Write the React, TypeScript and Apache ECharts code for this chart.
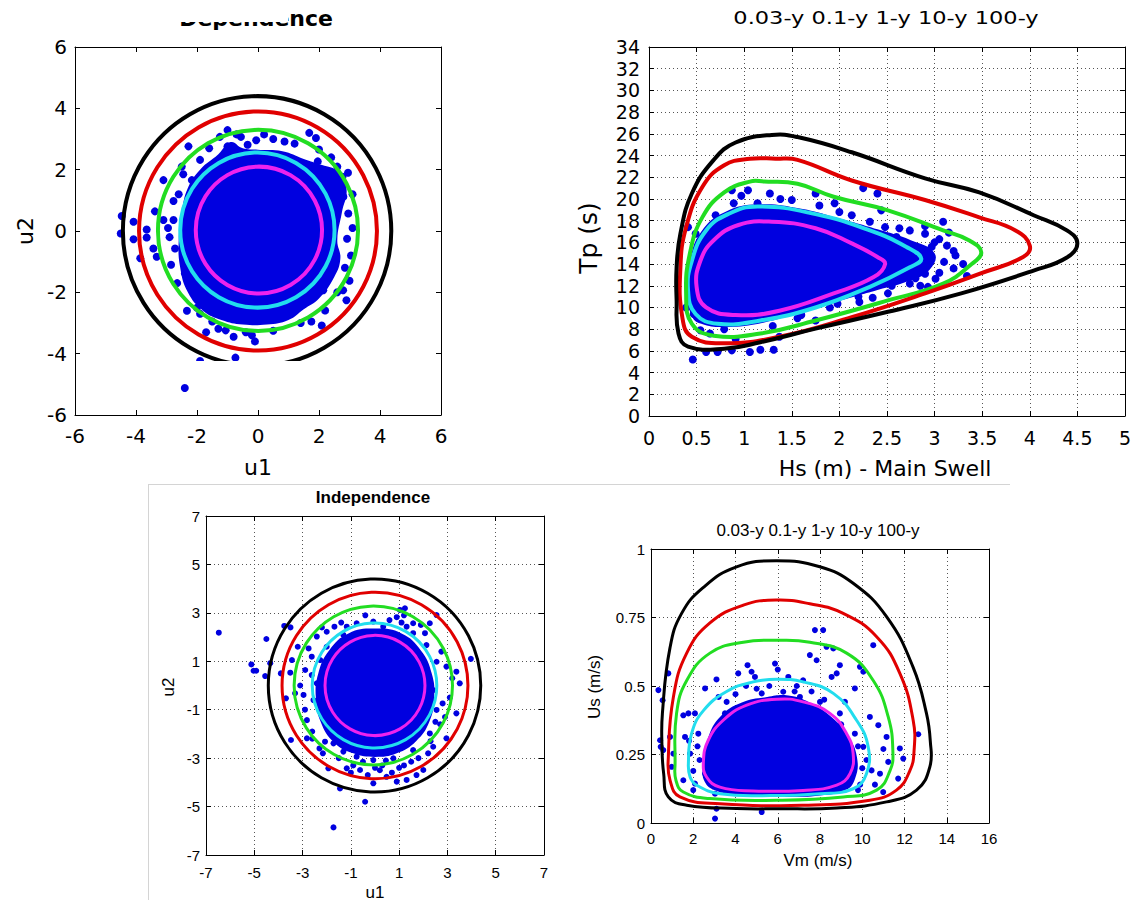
import React, { useEffect, useRef } from 'react';
import * as echarts from 'echarts';

// ---------- styling constants ----------
const WIDE = '"DejaVu Sans", sans-serif';
const SANS = '"Liberation Sans", Arial, sans-serif';
const BLUE = '#0000e0';
const CONTOUR_COLORS = ['#ee22ee', '#22ddee', '#22dd22', '#e00000', '#000000']; // 0.03y,0.1y,1y,10y,100y

// ---------- titles / axis names ----------
const TITLE_DEP = 'Dependence';
const TITLE_IND = 'Independence';
const TITLE_RP = '0.03-y 0.1-y 1-y 10-y 100-y';
const NAME_U1 = 'u1';
const NAME_U2 = 'u2';
const NAME_HS = 'Hs (m) - Main Swell';
const NAME_TP = 'Tp (s)';
const NAME_VM = 'Vm (m/s)';
const NAME_US = 'Us (m/s)';

// ---------- axis ranges [min, max, interval] ----------
const A_X = [-6, 6, 2];
const A_Y = [-6, 6, 2];
const B_X = [0, 5, 0.5];
const B_Y = [0, 34, 2];
const C_X = [-7, 7, 2];
const C_Y = [-7, 7, 2];
const D_X = [0, 16, 2];
const D_Y = [0, 1, 0.25];

// ---------- Panel A (top-left, dependence, u-space) ----------
const A_CX = [0.03, -0.02, 0.0, 0.0, -0.03];
const A_CY = [0.03, 0.03, 0.02, 0.0, 0.0];
const A_R = [2.07, 2.53, 3.28, 3.9, 4.4];
const A_BLOB = [
  [0, 2.65], [0.8, 2.6], [1.5, 2.35], [2.1, 2.15], [2.6, 1.95], [2.9, 1.4], [2.75, 0.6], [2.6, -0.3],
  [2.7, -0.9], [2.5, -1.5], [2.0, -2.2], [1.5, -2.55], [1.0, -2.9], [0.3, -3.05], [-0.5, -3.05],
  [-1.2, -2.9], [-1.8, -2.6], [-2.3, -2.0], [-2.55, -1.2], [-2.6, -0.3], [-2.5, 0.6], [-2.3, 1.4],
  [-1.9, 2.0], [-1.3, 2.5], [-0.9, 2.9], [-0.5, 2.7],
];
const A_POINTS = [
  [-4.47, 0.49], [-4.5, -0.08], [-4.08, 0.3], [-4.08, -0.27], [-3.86, -0.89], [-3.65, 0.05],
  [-3.65, -0.21], [-3.38, 0.64], [-3.43, -0.57], [-3.32, -0.84], [-3.1, 1.66], [-3.1, 0.36],
  [-2.77, 0.98], [-2.77, 0.36], [-2.72, -0.57], [-2.28, 2.76], [-1.9, 2.32], [-2.17, 1.66],
  [-2.4, -1.38], [-2.33, -2.6], [-1.9, -2.7], [-1.7, -3.3], [-1.3, -3.19], [-1.06, -3.24],
  [-0.8, -3.45], [-0.2, -3.4], [-0.74, -4.13], [-1.9, -4.24], [-2.4, -5.12], [-1.25, 3.07],
  [-1.0, 3.29], [-1.0, 2.76], [-0.56, 3.07], [-0.34, 2.81], [-0.06, 2.96], [0.87, 2.92],
  [1.68, 3.2], [1.9, 3.03], [2.0, 2.66], [1.96, 2.27], [2.77, 1.77], [2.8, 1.12], [2.96, 0.57],
  [2.92, -0.25], [2.4, -0.89], [3.0, -1.62], [2.79, -1.93], [2.9, -2.26], [2.14, -1.93],
  [2.2, -2.59], [2.09, -3.08], [0.9, -2.66], [-1.3, -2.66], [-2.6, 1.2], [-2.9, -0.2],
  [-2.95, 0.1], [-2.5, 2.1], [-1.6, 2.7], [0.5, 3.0], [2.4, 2.4], [2.6, 2.1], [3.05, -0.8],
  [2.6, -2.0], [1.4, -3.0], [0.5, -3.25], [-0.4, -3.3], [-1.5, -2.95], [-2.0, -2.5],
  [-2.65, -1.7], [-2.85, -1.1], [-2.45, 1.85], [-0.7, 3.15], [0.2, 3.15], [1.2, 2.85],
  [2.95, 1.9], [3.1, 1.2], [3.1, 0.1], [2.85, -1.2], [1.75, -2.95], [-0.1, -3.6],
];

// ---------- Panel B (top-right, Hs-Tp) ----------
const B_BLACK = [
  [1.29, 25.9], [1.56, 25.7], [2.13, 24.3], [2.9, 21.9], [3.47, 20.6], [4.04, 18.5], [4.39, 17.1],
  [4.5, 15.9], [4.39, 14.6], [4.04, 13.4], [3.28, 11.3], [2.51, 9.6], [1.75, 8.05], [1.17, 6.8],
  [0.79, 6.2], [0.41, 6.4], [0.31, 7.6], [0.29, 10.7], [0.29, 13.7], [0.33, 16.8], [0.45, 20.5],
  [0.68, 23.6], [0.91, 25.2],
];
const B_RED = [
  [1.33, 23.7], [1.56, 23.6], [2.13, 21.7], [2.9, 19.9], [3.47, 18.3], [3.85, 17.1], [4.0, 15.7],
  [3.93, 14.65], [3.47, 13.1], [2.9, 11.3], [2.13, 9.1], [1.37, 7.3], [0.79, 6.7], [0.45, 7.3],
  [0.35, 9.1], [0.33, 13.7], [0.39, 17.4], [0.56, 21.1], [0.79, 23.1], [1.06, 23.7],
];
const B_GREEN = [
  [1.21, 21.6], [1.56, 21.4], [1.94, 20.2], [2.51, 18.95], [3.09, 17.1], [3.36, 16.2], [3.49, 15.1],
  [3.39, 14.0], [3.09, 12.2], [2.51, 10.65], [1.75, 8.8], [1.17, 7.6], [0.68, 7.4], [0.45, 8.5],
  [0.39, 11.3], [0.43, 15.0], [0.56, 18.3], [0.79, 20.6], [1.06, 21.6],
];
const B_CYAN = [
  [1.14, 19.3], [1.75, 18.6], [2.32, 17.1], [2.7, 15.6], [2.86, 14.5], [2.74, 13.7], [2.32, 11.9],
  [1.75, 10.0], [1.17, 8.8], [0.72, 8.5], [0.49, 9.4], [0.41, 11.6], [0.45, 14.3], [0.6, 17.1],
  [0.83, 18.6],
];
const B_MAGENTA = [
  [1.29, 17.9], [1.75, 17.3], [2.13, 15.9], [2.4, 14.65], [2.48, 14.0], [2.36, 12.8], [1.94, 11.3],
  [1.37, 9.7], [0.91, 9.3], [0.6, 10.0], [0.5, 11.9], [0.54, 14.3], [0.68, 16.2], [0.94, 17.6],
];
const B_BLOB = [
  [0.45, 9.2], [0.4, 11.5], [0.43, 14.3], [0.55, 17.0], [0.8, 18.8], [1.15, 19.5], [1.6, 19.1],
  [2.0, 18.2], [2.4, 17.2], [2.75, 16.2], [3.0, 15.0], [2.95, 13.5], [2.75, 12.5], [2.4, 11.6],
  [2.0, 10.6], [1.6, 9.6], [1.2, 8.6], [0.8, 8.2], [0.55, 8.5],
];
const B_POINTS = [
  [0.46, 5.2], [0.6, 5.9], [0.72, 5.9], [0.87, 6.05], [1.06, 5.9], [1.17, 6.1], [1.31, 6.1],
  [0.87, 20.8], [1.04, 20.8], [1.27, 20.5], [1.38, 20.0], [1.75, 20.5], [2.25, 21.0], [2.4, 20.5],
  [2.44, 18.95], [0.89, 19.6], [1.14, 19.6], [1.79, 19.4], [2.0, 18.8], [2.13, 18.5], [2.32, 17.9],
  [2.48, 17.4], [2.63, 17.3], [2.74, 17.1], [2.9, 16.8], [3.09, 17.9], [2.97, 15.6], [3.13, 15.7],
  [3.22, 14.8], [3.2, 13.6], [3.34, 12.9], [2.9, 13.1], [3.01, 12.65], [2.93, 11.9], [2.74, 12.2],
  [2.51, 11.3], [2.63, 13.3], [2.21, 10.5], [1.98, 10.35], [1.75, 8.8], [1.56, 9.0], [0.41, 17.4],
  [0.49, 16.8], [0.58, 15.0], [0.41, 12.2], [0.47, 9.4], [0.39, 10.0], [0.54, 7.9], [0.64, 7.6],
  [0.79, 8.0], [0.91, 7.1], [1.37, 7.3], [0.97, 20.3], [1.5, 19.9], [1.95, 19.6], [2.6, 16.5],
  [3.05, 16.3], [3.1, 14.2], [2.85, 12.0], [2.35, 10.9], [1.3, 8.3], [0.7, 18.5],
  [2.8, 15.2], [3.0, 16.0], [3.15, 16.9], [2.9, 17.5], [3.2, 15.2], [3.3, 14.0], [3.05, 13.2],
  [2.8, 12.7], [2.55, 12.0], [2.2, 11.0], [1.9, 10.0], [1.6, 9.3],
];

// ---------- Panel C (bottom-left, independence, u-space) ----------
const C_CX = [0.0, -0.02, -0.07, 0.0, -0.02];
const C_CY = [0.0, 0.0, 0.0, 0.0, 0.0];
const C_R = [2.07, 2.58, 3.28, 3.85, 4.4];
const C_BLOB = [
  [0, 2.35], [1.1, 2.15], [1.9, 1.45], [2.35, 0.5], [2.45, -0.5], [2.25, -1.5], [1.7, -2.3],
  [0.9, -2.8], [0, -2.95], [-0.9, -2.8], [-1.7, -2.35], [-2.25, -1.5], [-2.45, -0.5], [-2.35, 0.5],
  [-1.9, 1.45], [-1.1, 2.15],
];
const C_POINTS = [
  [-6.47, 2.18], [-5.12, 0.87], [-5.03, 0.61], [-4.92, 0.61], [-4.5, 1.92], [-4.55, 0.39],
  [-4.34, 0.92], [-3.76, 2.46], [-3.9, 0.5], [-3.69, -0.53], [-3.44, 1.05], [-3.51, 0.53],
  [-3.31, -0.32], [-3.48, -2.25], [-2.96, -0.39], [-2.82, -2.18], [-2.89, 0.64], [-2.75, 1.53],
  [-2.62, 1.19], [-2.41, 2.02], [-2.0, 2.22], [-1.68, 2.43], [-1.17, 2.43], [-0.76, 2.57],
  [-0.07, 2.64], [0.9, 2.82], [1.03, 3.12], [1.24, 3.19], [1.31, 2.43], [1.58, 2.57], [2.27, 2.57],
  [2.07, 2.16], [2.55, 2.91], [2.75, 1.4], [2.96, 0.78], [3.37, 0.57], [3.51, 0.09], [3.97, 1.1],
  [3.37, -1.15], [2.96, -2.18], [2.8, -0.74], [2.41, -2.53], [2.0, -3.49], [1.72, -3.7],
  [1.31, -3.9], [0.9, -3.97], [0.48, -3.77], [-0.07, -4.04], [-0.62, -3.49], [-1.17, -3.42],
  [-1.45, -4.25], [-1.93, -3.42], [-2.16, -2.8], [-0.41, -4.8], [-1.72, -5.86], [-2.27, 1.05],
  [-2.41, 0.09], [-2.2, -0.87], [-1.79, -1.63], [-1.72, -2.39], [-1.31, -2.73], [-0.76, -2.94],
  [-0.07, -3.08], [0.76, -3.01], [1.58, -2.67], [2.27, -1.98], [2.55, -1.01], [2.41, -0.19],
  [2.55, 0.98], [2.13, 1.67], [1.58, 2.16], [0.34, 2.43], [-1.31, 2.09], [-2.0, 1.6], [-2.62, 0.43],
  [-2.55, -0.6], [-2.82, -1.43], [-2.07, -2.32], [1.1, 2.6], [1.2, 2.9], [2.2, -2.8], [0.2, -3.5],
  [-0.9, -3.3], [1.0, -3.4], [2.7, -1.6], [-2.6, -1.9],
  [-1.5, -3.0], [-1.0, -3.6], [-0.3, -3.7], [0.3, -3.3], [0.7, -3.6], [1.2, -3.3], [1.8, -3.0],
  [2.3, -2.3], [2.5, -1.5], [-2.3, -2.6], [-2.6, -2.2], [-2.9, -1.0], [-3.1, 0.0], [-2.2, 2.4],
  [-1.4, 2.6], [-0.4, 2.9], [0.6, 2.7], [1.9, 2.5], [2.9, -1.3], [3.1, -0.5], [3.2, 0.3],
  [-3.2, 1.6], [-3.5, 2.4], [0.0, -3.4], [-0.5, -3.15], [0.45, -3.1], [1.5, -3.15],
];

// ---------- Panel D (bottom-right, Vm-Us) ----------
const D_BLACK = [
  [5.95, 0.957], [7.99, 0.935], [9.57, 0.875], [11.15, 0.753], [12.4, 0.57], [13.04, 0.4],
  [13.22, 0.3], [13.2, 0.205], [12.57, 0.12], [11.15, 0.077], [8.79, 0.055], [5.95, 0.052],
  [4.05, 0.053], [1.69, 0.065], [0.82, 0.095], [0.6, 0.18], [0.52, 0.28], [0.54, 0.4], [0.9, 0.64],
  [1.45, 0.765], [2.48, 0.86], [4.05, 0.935],
];
const D_RED = [
  [5.95, 0.814], [7.52, 0.8], [9.1, 0.765], [10.68, 0.68], [11.78, 0.546], [12.41, 0.375],
  [12.45, 0.26], [12.25, 0.19], [11.62, 0.12], [10.36, 0.083], [7.2, 0.065], [3.26, 0.07],
  [1.37, 0.095], [0.9, 0.156], [0.82, 0.24], [1.06, 0.46], [1.69, 0.62], [2.79, 0.73], [4.37, 0.795],
];
const D_GREEN = [
  [5.95, 0.667], [7.52, 0.66], [9.26, 0.62], [10.52, 0.52], [11.23, 0.387], [11.45, 0.26],
  [11.31, 0.19], [10.68, 0.12], [9.1, 0.095], [5.95, 0.083], [2.79, 0.089], [1.53, 0.113],
  [1.18, 0.156], [1.14, 0.217], [1.21, 0.4], [1.69, 0.52], [2.79, 0.62], [4.37, 0.66],
];
const D_CYAN = [
  [5.95, 0.525], [7.2, 0.515], [8.63, 0.473], [9.73, 0.375], [10.28, 0.278], [10.2, 0.18],
  [9.57, 0.125], [7.99, 0.107], [5.63, 0.1], [3.26, 0.107], [2.16, 0.138], [1.85, 0.168],
  [1.77, 0.217], [1.92, 0.326], [2.48, 0.41], [3.58, 0.48], [4.84, 0.515],
];
const D_MAGENTA = [
  [5.95, 0.452], [7.2, 0.442], [8.47, 0.4], [9.26, 0.326], [9.57, 0.253], [9.42, 0.18],
  [8.79, 0.138], [7.2, 0.119], [4.84, 0.117], [3.26, 0.131], [2.63, 0.168], [2.48, 0.223],
  [2.71, 0.302], [3.42, 0.375], [4.53, 0.43],
];
const D_BLOB = [
  [2.45, 0.2], [2.7, 0.31], [3.3, 0.39], [4.3, 0.44], [5.5, 0.46], [6.5, 0.465], [7.5, 0.44],
  [8.5, 0.39], [9.3, 0.32], [9.75, 0.24], [9.65, 0.16], [9.2, 0.12], [8.0, 0.1], [6.5, 0.095],
  [5.0, 0.097], [3.8, 0.105], [3.0, 0.12], [2.55, 0.15],
];
const D_POINTS = [
  [0.35, 0.485], [0.55, 0.448], [0.82, 0.546], [0.43, 0.302], [0.46, 0.278], [0.58, 0.266],
  [0.9, 0.314], [1.06, 0.253], [0.98, 0.205], [1.53, 0.393], [1.77, 0.4], [1.61, 0.314], [2.08, 0.4],
  [2.24, 0.326], [2.56, 0.491], [3.1, 0.524], [3.03, 0.107], [3.1, 0.052], [3.03, 0.016],
  [5.24, 0.04], [4.57, 0.576], [4.76, 0.552], [4.92, 0.533], [4.13, 0.546], [5.87, 0.582],
  [6.5, 0.533], [7.2, 0.521], [7.76, 0.704], [8.15, 0.704], [7.52, 0.613], [7.84, 0.594],
  [8.31, 0.643], [8.63, 0.637], [8.55, 0.533], [8.79, 0.546], [8.94, 0.576], [9.89, 0.57],
  [10.05, 0.552], [9.65, 0.491], [10.52, 0.649], [9.18, 0.442], [10.36, 0.387], [10.76, 0.357],
  [11.15, 0.314], [12.65, 0.324], [11.78, 0.272], [11.94, 0.235], [11.7, 0.162], [10.99, 0.113],
  [10.84, 0.18], [11.23, 0.223], [10.44, 0.192], [1.53, 0.156], [2.08, 0.144], [1.85, 0.253],
  [2.56, 0.18], [3.58, 0.442], [4.13, 0.412], [5.24, 0.473], [6.26, 0.479], [7.05, 0.46],
  [8.0, 0.442], [8.94, 0.4], [9.65, 0.326], [10.05, 0.278], [2.3, 0.23], [2.0, 0.19], [3.2, 0.46],
  [6.9, 0.5], [5.6, 0.5], [9.9, 0.14], [10.2, 0.23],
  [3.0, 0.3], [3.5, 0.4], [4.5, 0.5], [6.0, 0.56], [6.8, 0.48], [7.6, 0.48], [8.2, 0.45],
  [9.0, 0.36], [9.8, 0.28], [10.0, 0.2], [9.8, 0.12], [2.2, 0.28], [2.0, 0.12], [1.8, 0.3],
  [10.6, 0.14], [11.0, 0.27], [4.0, 0.47], [5.0, 0.49],
];

// ---------- helpers ----------
function axes(panel: number, dim: 'x' | 'y', range: number[], fontFamily: string, fontSize: number, margin: number, grid: boolean) {
  const [min, max, interval] = range;
  const common = { gridIndex: panel, type: 'value', min, max, interval };
  const line = { show: true, onZero: false, lineStyle: { color: '#000', width: 1 } };
  const tick = { show: true, inside: true, length: 5, lineStyle: { color: '#000', width: 1 } };
  return [
    {
      ...common,
      position: dim === 'x' ? 'bottom' : 'left',
      axisLine: line,
      axisTick: tick,
      axisLabel: { show: true, color: '#000', fontFamily, fontSize, margin },
      splitLine: { show: grid, lineStyle: { type: [1, 3], color: '#555', width: 1 } },
    },
    {
      ...common,
      position: dim === 'x' ? 'top' : 'right',
      axisLine: line,
      axisTick: tick,
      axisLabel: { show: false },
      splitLine: { show: false },
    },
  ];
}

function shape(panel: number, pts: number[][], stroke: string | null, fill: string | null, width: number, z: number) {
  return {
    type: 'custom',
    xAxisIndex: panel * 2,
    yAxisIndex: panel * 2,
    silent: true,
    clip: true,
    z,
    data: [pts[0]],
    renderItem: (_p: any, api: any) => ({
      type: 'polygon',
      shape: { points: pts.map((p) => api.coord(p)), smooth: 0.45 },
      style: { fill: fill ?? 'none', stroke: stroke ?? 'none', lineWidth: width },
    }),
  };
}

function circles(panel: number, cx: number[], cy: number[], r: number[], width: number) {
  return {
    type: 'custom',
    xAxisIndex: panel * 2,
    yAxisIndex: panel * 2,
    silent: true,
    clip: true,
    z: 5,
    data: r.map((rr, i) => [cx[i], cy[i], rr, i]),
    renderItem: (_p: any, api: any) => {
      const c = api.coord([api.value(0), api.value(1)]);
      const s = api.size([api.value(2), api.value(2)]);
      return {
        type: 'circle',
        x: c[0],
        y: c[1],
        scaleY: s[1] / s[0],
        shape: { cx: 0, cy: 0, r: s[0] },
        style: { fill: 'none', stroke: CONTOUR_COLORS[api.value(3)], lineWidth: width },
      };
    },
  };
}

function scatter(panel: number, pts: number[][], size: number) {
  return {
    type: 'scatter',
    xAxisIndex: panel * 2,
    yAxisIndex: panel * 2,
    silent: true,
    z: 3,
    symbol: 'circle',
    symbolSize: size,
    itemStyle: { color: BLUE, opacity: 1 },
    data: pts,
  };
}

function label(text: string, x: number, y: number, font: string, size: number, opts: any = {}) {
  return {
    type: 'text',
    x,
    y,
    z: 50,
    rotation: opts.rotate ? Math.PI / 2 : 0,
    scaleX: opts.scaleX ?? 1,
    style: {
      text,
      fill: '#000',
      font: `${opts.bold ? 'bold ' : ''}${size}px ${font}`,
      align: opts.align ?? 'center',
      verticalAlign: 'middle',
    },
  };
}

function buildOption() {
  const bContours = [B_MAGENTA, B_CYAN, B_GREEN, B_RED, B_BLACK];
  const dContours = [D_MAGENTA, D_CYAN, D_GREEN, D_RED, D_BLACK];
  return {
    animation: false,
    backgroundColor: '#ffffff',
    grid: [
      { left: 75, top: 47, width: 366, height: 368 },
      { left: 649, top: 47, width: 478, height: 369 },
      { left: 206, top: 516, width: 338, height: 339 },
      { left: 651, top: 549, width: 338, height: 274 },
    ],
    xAxis: [
      ...axes(0, 'x', A_X, WIDE, 20, 11, false),
      ...axes(1, 'x', B_X, WIDE, 19, 12, true),
      ...axes(2, 'x', C_X, SANS, 15, 10, true),
      ...axes(3, 'x', D_X, SANS, 15, 8, true),
    ],
    yAxis: [
      ...axes(0, 'y', A_Y, WIDE, 20, 8, false),
      ...axes(1, 'y', B_Y, WIDE, 19, 9, true),
      ...axes(2, 'y', C_Y, SANS, 15, 6, true),
      ...axes(3, 'y', D_Y, SANS, 15, 6, true),
    ],
    series: [
      shape(0, A_BLOB, null, BLUE, 0, 2),
      scatter(0, A_POINTS, 8),
      circles(0, A_CX, A_CY, A_R, 4),
      shape(1, B_BLOB, null, BLUE, 0, 2),
      scatter(1, B_POINTS, 8),
      ...bContours.map((c, i) => shape(1, c, CONTOUR_COLORS[i], null, 4, 5)),
      shape(2, C_BLOB, null, BLUE, 0, 2),
      scatter(2, C_POINTS, 6),
      circles(2, C_CX, C_CY, C_R, 3),
      shape(3, D_BLOB, null, BLUE, 0, 2),
      scatter(3, D_POINTS, 6),
      ...dContours.map((c, i) => shape(3, c, CONTOUR_COLORS[i], null, 3, 5)),
    ],
    graphic: [
      // separating frame of the lower figure
      { type: 'line', z: 40, shape: { x1: 148, y1: 484.5, x2: 1010, y2: 484.5 }, style: { stroke: '#d4d4d4', lineWidth: 1 } },
      { type: 'line', z: 40, shape: { x1: 148.5, y1: 484, x2: 148.5, y2: 900 }, style: { stroke: '#d4d4d4', lineWidth: 1 } },
      // top-left
      label(TITLE_DEP, 333, 18, WIDE, 22, { bold: true, align: 'right' }),
      { type: 'rect', z: 60, shape: { x: 168, y: 0, width: 120, height: 22 }, style: { fill: '#ffffff' } },
      { type: 'rect', z: 60, shape: { x: 190, y: 361, width: 125, height: 24 }, style: { fill: '#ffffff' } },
      label(NAME_U1, 258, 467, WIDE, 22),
      label(NAME_U2, 25, 231, WIDE, 22, { rotate: true }),
      // top-right
      label(TITLE_RP, 886, 18, WIDE, 18, { scaleX: 1.25 }),
      label(NAME_HS, 885, 468, WIDE, 22),
      label(NAME_TP, 588, 238, WIDE, 25, { rotate: true }),
      // bottom-left
      label(TITLE_IND, 373, 497, SANS, 17, { bold: true }),
      label(NAME_U1, 375, 892, SANS, 17),
      label(NAME_U2, 168, 687, SANS, 17, { rotate: true }),
      // bottom-right
      label(TITLE_RP, 818, 530, SANS, 17),
      label(NAME_VM, 818, 860, SANS, 17),
      label(NAME_US, 594, 687, SANS, 17, { rotate: true }),
    ],
  };
}

export default function App() {
  const ref = useRef<HTMLDivElement>(null);
  useEffect(() => {
    if (!ref.current) return;
    const chart = echarts.init(ref.current, null, { renderer: 'svg', width: 1134, height: 900 });
    chart.setOption(buildOption() as any);
    return () => chart.dispose();
  }, []);
  return (
    <div
      ref={ref}
      style={{ position: 'absolute', left: 0, top: 0, width: 1134, height: 900, background: '#ffffff' }}
    />
  );
}
